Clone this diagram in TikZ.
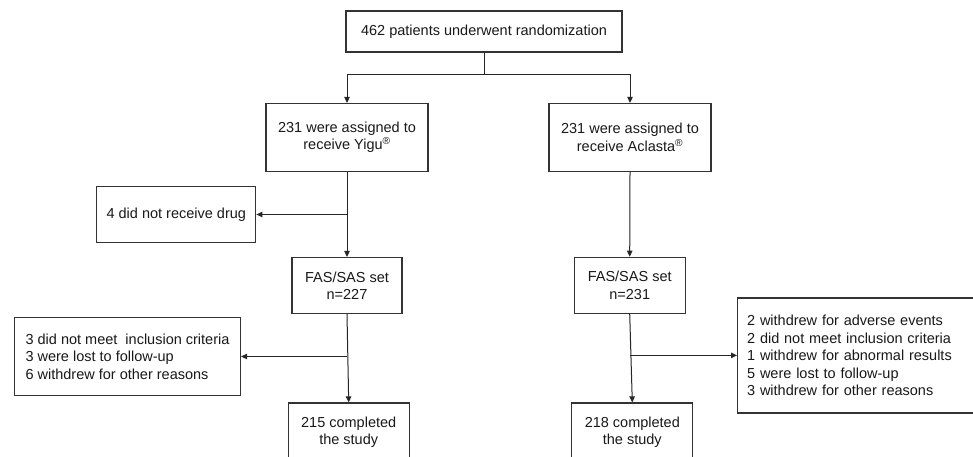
\documentclass[tikz,border=0pt]{standalone}
\usepackage{fontspec}
\setmainfont{Liberation Sans}
\usetikzlibrary{arrows.meta}
\begin{document}
\begin{tikzpicture}[x=1pt,y=-1pt,
  box/.style={draw=black!80, line width=1.2pt, rectangle, inner sep=0pt, align=center,
    font=\fontsize{14.5}{17.5}\selectfont, text=black!90},
  lbox/.style={draw=black!80, line width=1.2pt, rectangle, inner ysep=0pt, inner xsep=9.5pt, align=left,
    font=\fontsize{14.5}{17.5}\selectfont, text=black!90},
  conn/.style={draw=black!85, line width=1pt},
  arr/.style={conn, -{Triangle[length=6pt,width=5.5pt]}}]
\useasboundingbox (0,0) rectangle (973,457);
\fill[white] (0,0) rectangle (973,457);
\clip (0,0) rectangle (973,457);

\node[box, minimum width=276pt, minimum height=41pt] (top) at (484,31.5) {462 patients underwent randomization};
\node[box, minimum width=162pt, minimum height=68pt] (yigu) at (347,137.5) {231 were assigned to\\receive Yigu\textsuperscript{®}};
\node[box, minimum width=162pt, minimum height=68pt] (acl) at (630,137.5) {231 were assigned to\\receive Aclasta\textsuperscript{®}};
\node[box, minimum width=159pt, minimum height=56pt] (drug) at (176.3,214.5) {4 did not receive drug};
\node[box, minimum width=110pt, minimum height=56pt] (fasl) at (347,285.5) {FAS/SAS set\\n=227};
\node[box, minimum width=111pt, minimum height=56pt] (fasr) at (629.7,285.3) {FAS/SAS set\\n=231};
\node[lbox, inner xsep=0pt, minimum width=226pt, minimum height=78pt] (reasl) at (127.5,356.5) {3 did not meet\ \ inclusion criteria\\3 were lost to follow-up\\6 withdrew for other reasons};
\node[lbox, text width=226pt, minimum height=115pt, anchor=west] (reasr) at (737,355.4) {2 withdrew for adverse events\\2 did not meet inclusion criteria\\1 withdrew for abnormal results\\5 were lost to follow-up\\3 withdrew for other reasons};
\node[box, minimum width=121pt, minimum height=58pt] (compl) at (348.7,432) {215 completed\\the study};
\node[box, minimum width=121pt, minimum height=58pt] (compr) at (632.3,432) {218 completed\\the study};

\coordinate (j0) at (484,75);
\draw[conn] (top.south) -- (j0);
\draw[arr] (j0) -| (yigu.north);
\draw[arr] (j0) -| (acl.north);

\draw[arr] (yigu.south) -- (fasl.north);
\coordinate (j1) at (yigu.south |- drug.east);
\draw[arr] (j1) -- (drug.east);

\draw[arr] (fasl.south) -- (compl.north);
\coordinate (j2) at (fasl.south |- reasl.east);
\draw[arr] (j2) -- (reasl.east);

\draw[arr] (acl.south) -- (fasr.north);
\draw[arr] (fasr.south) -- (compr.north);
\coordinate (j3) at (fasr.south |- reasr.west);
\draw[arr] (j3) -- (reasr.west);
\end{tikzpicture}
\end{document}
